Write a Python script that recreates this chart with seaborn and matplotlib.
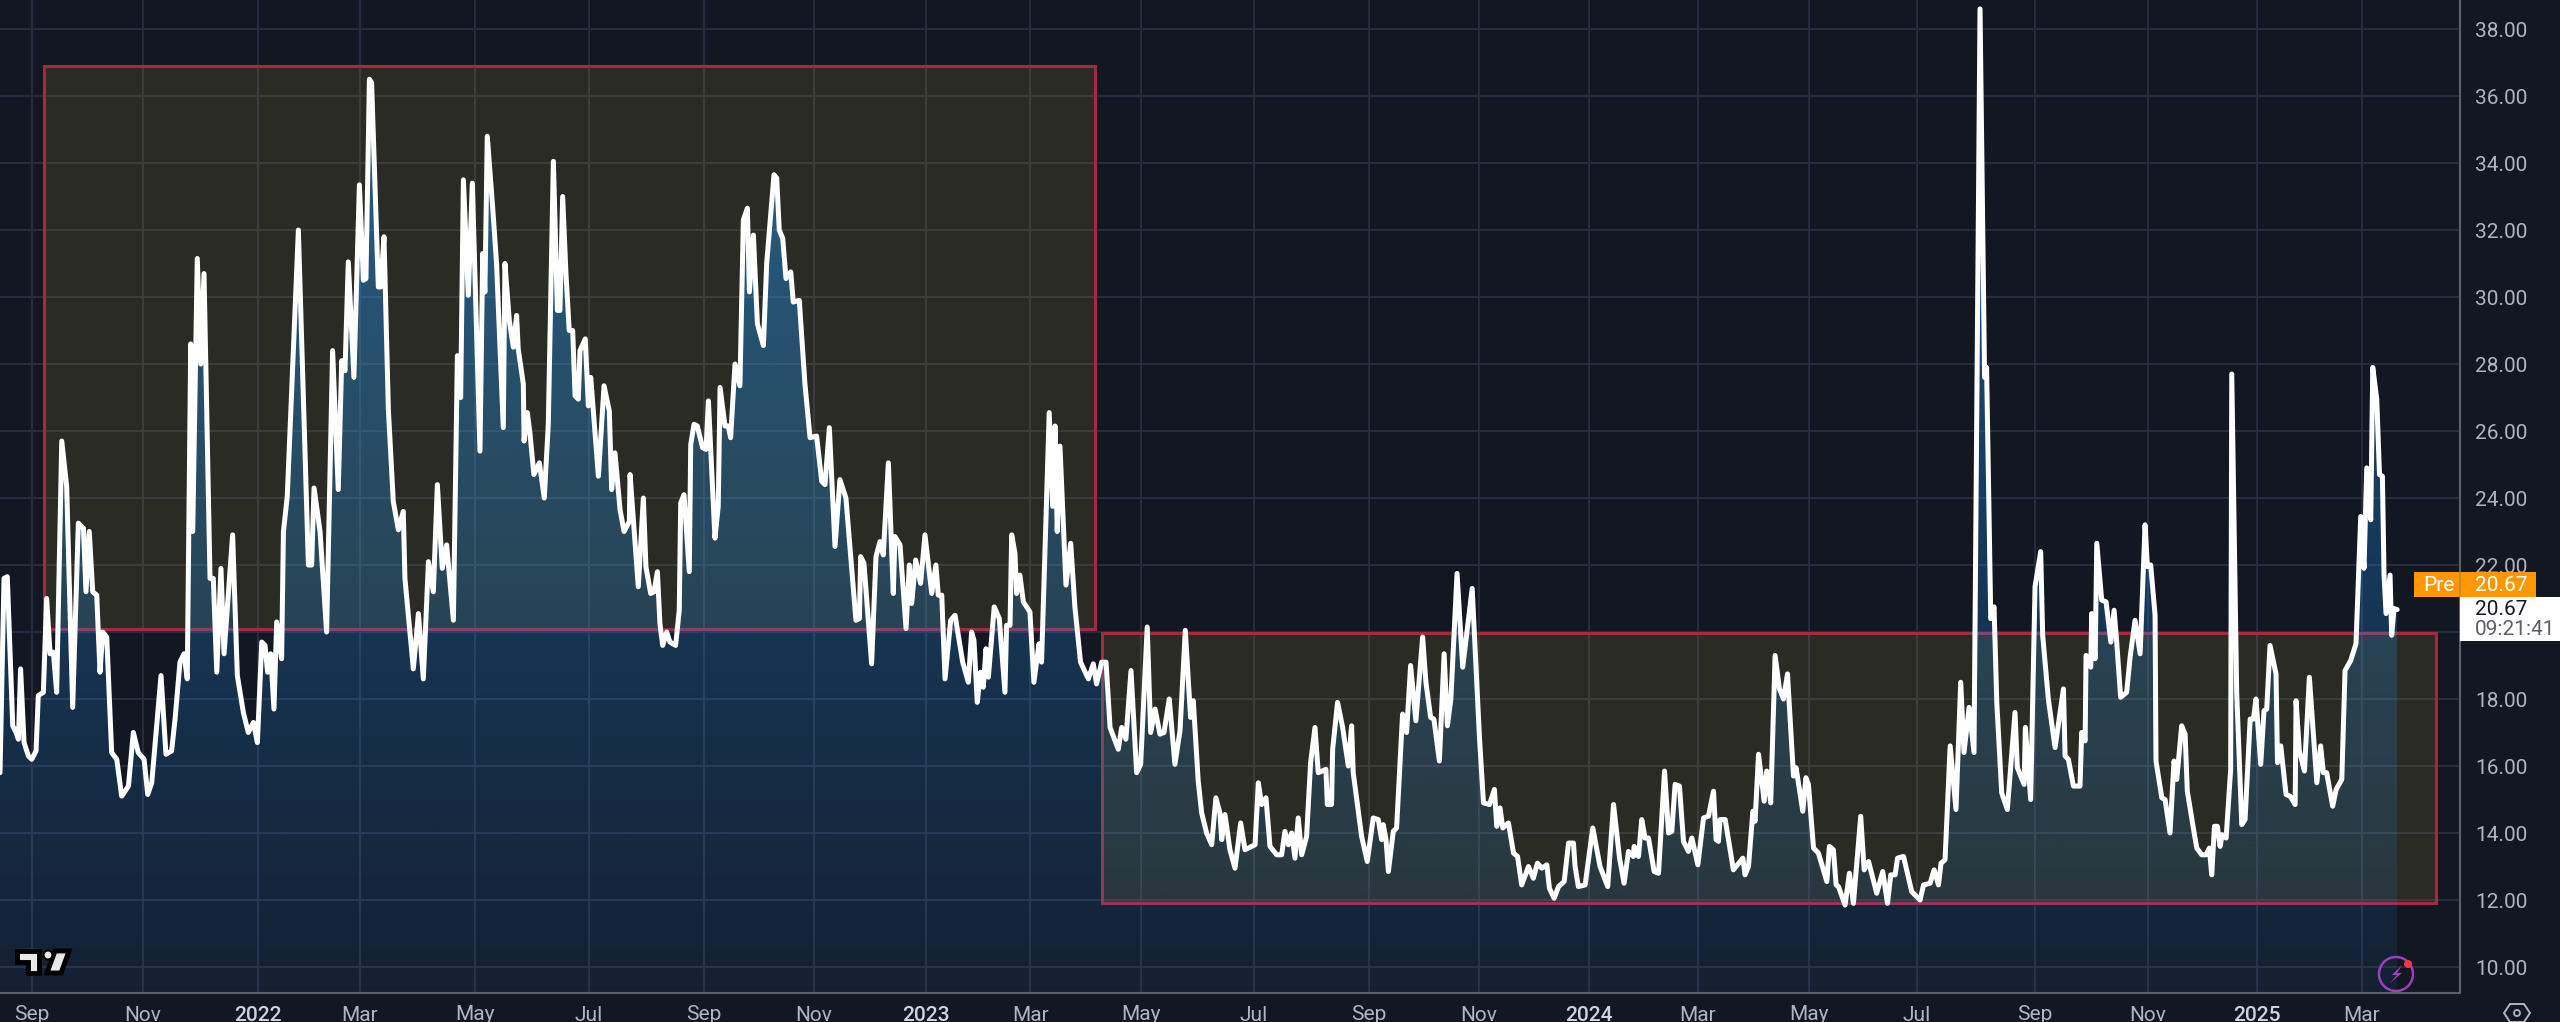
"""Volatility index daily close with two range boxes, dark trading-terminal look."""

from __future__ import annotations

import matplotlib

matplotlib.use("Agg")

import matplotlib.pyplot as plt
import numpy as np
import pandas as pd
import seaborn as sns
from matplotlib.patches import Circle, Polygon, Rectangle
from matplotlib.transforms import Affine2D

# Calendar days since 2021-08-14 for each vertex of the line
DAYS = [
    0, 2.2, 4, 7, 8.8, 10.1, 11.3, 13.2, 15.6, 17.4,
    19.8, 21, 23.8, 25.6, 27.5, 29.3, 31.1, 33.9, 36.6, 39.9,
    43, 45.8, 47.2, 49, 50.9, 53.1, 54.9, 56.4, 58.6, 61.3,
    64.1, 66.8, 70.5, 73.2, 75.9, 79.1, 81.1, 83.3, 88.4, 91.1,
    94.2, 96.1, 98.8, 101, 102.8, 104.7, 105.8, 108.3, 110.2, 112,
    115.3, 117.1, 119, 121.3, 123, 127.7, 130.3, 133.6, 136.3, 139.1,
    141.3, 143.7, 145.5, 146.9, 148.6, 150.4, 151.9, 154.6, 155.6, 157.7,
    163.8, 169.3, 171.1, 172.4, 175.7, 179.3, 182.6, 185.7, 187.6, 189.4,
    191.2, 194.3, 197.3, 199.5, 200.9, 202.8, 204, 207.7, 209, 210.8,
    213.2, 215.9, 218.7, 221.4, 222.3, 226.9, 229.7, 232.4, 235.2, 237.9,
    240.1, 242.8, 245.2, 248.9, 251.1, 252.9, 254.4, 257.1, 259.3, 263.5,
    265, 266.2, 267.5, 270.5, 272.6, 276.3, 277.2, 279.6, 281.8, 283.6,
    284.5, 287.3, 287.7, 289.5, 291, 293.1, 296.1, 298.8, 301, 303.8,
    306, 307.4, 308.9, 310.7, 312.5, 314.4, 315.7, 317.5, 318.4, 321.3,
    323, 324.3, 328.5, 331.6, 334.5, 335.8, 337.6, 340.4, 342.6, 345.5,
    345.9, 350.4, 353.2, 354.6, 357.2, 359, 360.9, 362.3, 363.8, 366,
    367.8, 370.9, 372.9, 373.7, 375.5, 378.4, 379.2, 381, 382.8, 385.7,
    387.6, 388.9, 392.5, 394.3, 395.3, 398, 399.8, 401.1, 403.5, 406.2,
    408.1, 410.3, 411.4, 413.6, 415.8, 419.1, 420.9, 424.9, 426.4, 427.8,
    429.7, 431.5, 434.1, 435.5, 438.8, 441.9, 444.7, 448.3, 451.1, 452.9,
    455.3, 458.4, 461.1, 464.4, 469.9, 471.8, 472.5, 474.3, 478.5, 480.9,
    483.1, 484.9, 487.7, 490.4, 491.3, 494.1, 497.4, 499.2, 500.5, 502.7,
    505.4, 507.8, 511.5, 513.8, 515.1, 517, 518.8, 521.9, 524.3, 528.5,
    531.6, 533.4, 534.7, 536.5, 538.3, 539.8, 541.3, 542.6, 545.8, 548.6,
    551.7, 552.6, 554.5, 555.4, 557.2, 558.1, 559.9, 561.8, 565.4, 567.6,
    570.4, 571.8, 576, 577.9, 579.2, 580.4, 581.9, 585.2, 587.8, 590.1,
    593.2, 597.5, 600.2, 602, 604.8, 607.2, 609.4, 613.9, 615.8, 618.1,
    620.9, 624, 626.2, 629.8, 631.7, 634.1, 636.8, 639, 641.9, 645,
    647.8, 650.7, 653.6, 655.1, 657.8, 659.7, 662.4, 665.2, 667.5, 669.7,
    670.7, 672.5, 675.2, 678, 681.1, 683.5, 687.1, 689, 690.8, 692.6,
    695, 697.2, 700.9, 703.6, 705.4, 707.3, 709.1, 710.9, 712.7, 714.6,
    717.3, 719.5, 721.9, 723.7, 727.9, 728.7, 731, 731.6, 734.3, 737.1,
    740.2, 742, 742.9, 747.5, 750.6, 753.9, 756.7, 758.5, 759.4, 760.9,
    762.2, 764.9, 766.7, 770, 772.2, 774.4, 777.3, 781, 782.8, 785.4,
    787.2, 790.2, 792.8, 794.6, 796.5, 799.9, 803, 808.2, 812.2, 814.4,
    817.7, 820.4, 821.7, 823.5, 825, 828.1, 830.9, 833.1, 835.4, 839.1,
    841.8, 844, 846.4, 849.2, 850.6, 853.2, 855.6, 858.7, 861.1, 863.8,
    864.7, 866.5, 870.2, 874.4, 878.4, 882.6, 885.8, 889.1, 891.6, 894,
    896.7, 897.1, 899.5, 901.3, 903.1, 905, 908.1, 910.5, 913.8, 916,
    917.8, 919.6, 922, 924.2, 926.9, 928.8, 932.1, 935.2, 937.9, 940.7,
    942.1, 943.4, 944.3, 947.1, 951.6, 956.8, 958, 959.9, 962.3, 963.5,
    965.4, 968.5, 969.9, 972.1, 974.5, 976.9, 979.1, 981.3, 984.6, 986,
    989.7, 991.4, 992.8, 995.6, 998.3, 1002.9, 1004.3, 1006.5, 1008, 1009.3,
    1012.9, 1015.3, 1017.5, 1021.5, 1023.4, 1025.8, 1030.3, 1033.6, 1036.2, 1038,
    1040.4, 1041.7, 1045, 1049.5, 1054.1, 1056, 1059.6, 1061.8, 1064.2, 1065.6,
    1067.8, 1070.6, 1073.8, 1076.4, 1078.2, 1081, 1083.7, 1087, 1089.5, 1090.6,
    1092.9, 1094.7, 1096.2, 1098.9, 1102, 1103.9, 1106.2, 1107.5, 1111.2, 1111.9,
    1114.8, 1117.2, 1120.3, 1121.4, 1124.5, 1128.2, 1132.8, 1133.7, 1135.5, 1138.3,
    1141.9, 1142.8, 1144.7, 1145.2, 1147.8, 1148.3, 1150.2, 1151.1, 1153.8, 1156.2,
    1158.8, 1160.6, 1162.1, 1164.2, 1167.5, 1169.4, 1172.1, 1174.9, 1177.6, 1178.9,
    1180.7, 1183.1, 1183.6, 1186.8, 1188.6, 1191.3, 1193.5, 1195, 1197.7, 1199.6,
    1200.8, 1204.1, 1206, 1208.7, 1211.1, 1212.9, 1214.2, 1215.7, 1217.3, 1218.8,
    1219.9, 1222.1, 1224.6, 1225.2, 1227.9, 1230.7, 1232.5, 1235.3, 1237.1, 1238.5,
    1241.1, 1242.9, 1244.4, 1246.2, 1249.5, 1250.3, 1252.1, 1255, 1257.2, 1260,
    1260.5, 1262.3, 1265.1, 1267.8, 1271.9, 1274, 1275.5, 1277.3, 1280.6, 1282.5,
    1285.6, 1287.4, 1290.5, 1293.4, 1296, 1297.8, 1299.3, 1301.5, 1302.6, 1304.8,
    1306.3, 1307.9, 1308.8, 1309.9, 1312.1, 1313, 1314.3, 1316,
]
VIX = [
    15.8, 21.6, 21.65, 17.2, 17, 16.8, 18.9, 16.7, 16.3, 16.2,
    16.45, 18.1, 18.2, 21, 19.35, 19.4, 18.2, 25.7, 24.35, 17.75,
    23.25, 23.1, 21.2, 23, 21.2, 21.1, 18.8, 20, 19.85, 16.4,
    16.2, 15.1, 15.4, 17, 16.4, 16.2, 15.15, 15.5, 18.7, 16.35,
    16.45, 17.4, 19.1, 19.35, 18.6, 28.6, 23, 31.15, 28, 30.7,
    21.6, 21.6, 18.8, 21.9, 19.35, 22.9, 18.7, 17.6, 17, 17.3,
    16.7, 19.7, 19.6, 18.8, 19.35, 17.7, 20.3, 19.2, 23, 24.05,
    32, 22, 22, 24.3, 23, 20, 28.4, 24.25, 28.1, 27.8,
    31.05, 27.6, 33.35, 30.5, 30.55, 36.5, 36.4, 30.3, 30.3, 31.8,
    26.65, 23.9, 23.05, 23.6, 21.6, 18.9, 20.55, 18.6, 22.1, 21.2,
    24.4, 21.9, 22.6, 20.35, 28.25, 27, 33.5, 30.05, 33.4, 25.4,
    31.3, 30.15, 34.8, 32.65, 31, 26.1, 31, 29.3, 28.5, 29.45,
    28.45, 27.4, 25.7, 26.55, 25.9, 24.7, 25.05, 24, 26.2, 34.05,
    29.6, 29.6, 33, 30.7, 29, 29, 27.05, 26.95, 28.4, 28.75,
    26.75, 27.6, 24.65, 27.35, 26.6, 24.25, 25.35, 23.65, 23, 23.3,
    24.7, 21.35, 24, 21.95, 21.15, 21.2, 21.8, 20.25, 19.6, 20,
    19.7, 19.6, 20.65, 23.85, 24.1, 21.8, 25.6, 26.2, 26.15, 25.5,
    25.45, 26.9, 22.8, 23.75, 27.3, 26.15, 26.15, 25.8, 28, 27.35,
    32.3, 32.65, 30.15, 31.85, 29.2, 28.55, 31, 33.65, 33.55, 32,
    31.75, 30.55, 30.75, 29.85, 29.9, 27.4, 25.8, 25.85, 24.5, 24.4,
    26.1, 22.55, 24.55, 24, 20.35, 20.4, 22.25, 22.05, 19.05, 22.25,
    22.7, 22.3, 25.05, 21.15, 22.85, 22.6, 20.1, 22, 20.85, 22.15,
    21.45, 22.9, 21.15, 22, 21.1, 21.1, 18.6, 20.35, 20.5, 19.1,
    18.5, 20, 19.75, 17.9, 18.8, 18.35, 19.5, 18.65, 20.75, 20.4,
    18.2, 20.2, 20.2, 22.9, 22.35, 21.15, 21.7, 20.9, 20.6, 18.5,
    19.65, 19.1, 26.55, 23.75, 26.15, 23, 25.55, 21.4, 22.65, 20.75,
    19.1, 18.6, 19.05, 18.45, 19.1, 19.1, 17.15, 16.5, 17.15, 16.8,
    18.85, 15.8, 16.05, 20.15, 17, 17.7, 16.95, 17, 18, 16.05,
    17.05, 20.05, 17.45, 17.95, 15.55, 14.6, 14, 13.65, 15.05, 14.6,
    13.8, 14.55, 13.5, 12.95, 14.3, 13.5, 13.6, 13.65, 15.5, 14.85,
    15.05, 13.6, 13.35, 13.35, 14.05, 13.65, 14, 13.25, 14.45, 13.35,
    13.9, 16.1, 17.15, 15.8, 15.9, 14.85, 14.85, 16.5, 17.9, 17.15,
    16, 17.2, 15.8, 13.9, 13.15, 14.45, 14.4, 13.8, 14.25, 13.8,
    12.85, 14.05, 14.15, 17.55, 17, 19, 17.35, 19.85, 18.5, 17.45,
    17.4, 16.15, 19.35, 17.2, 18, 21.75, 18.95, 21.3, 16.85, 14.9,
    14.85, 15.3, 14.2, 14.75, 14.15, 14.3, 13.4, 13.3, 12.45, 13,
    12.65, 13.1, 12.95, 13.05, 12.35, 12.05, 12.4, 12.55, 13.7, 13.7,
    13, 12.4, 12.45, 14.15, 13, 12.4, 14.85, 13.25, 12.5, 13.45,
    13.3, 13.6, 13.3, 14.4, 13.85, 13.85, 12.85, 12.8, 15.85, 14,
    14.05, 15.45, 15.4, 13.75, 13.45, 13.85, 13.05, 14.45, 14.5, 15.25,
    13.8, 13.75, 14.4, 14.4, 12.9, 13.25, 12.75, 13, 14.65, 14.35,
    16.35, 14.95, 15.85, 14.9, 19.3, 18.3, 18, 18.75, 15.7, 15.95,
    14.65, 15.65, 15.45, 13.55, 13.4, 12.55, 13.6, 13.5, 12.45, 12.4,
    11.85, 12.8, 11.9, 14.5, 12.9, 13.15, 12.2, 12.85, 11.9, 12.75,
    12.75, 13.25, 13.3, 12.25, 12, 12.45, 12.5, 12.9, 12.45, 13.1,
    13.2, 16.6, 14.7, 18.5, 16.4, 17.75, 16.4, 38.6, 27.6, 27.9,
    20.4, 20.75, 17.9, 15.2, 14.7, 16, 17.6, 15.95, 15.45, 17.15,
    15, 21.35, 22.4, 19.9, 18, 16.55, 18.3, 16.3, 16.2, 15.4,
    15.4, 17, 16.75, 19.3, 18.95, 20.55, 19.2, 22.65, 20.95, 20.9,
    19.7, 20.65, 19.65, 18.05, 18.2, 19.25, 20.35, 19.35, 23.2, 21.95,
    22, 20.5, 16.15, 15.05, 15, 14, 16.15, 15.6, 17.2, 16.95,
    15.25, 14.15, 13.55, 13.35, 13.35, 13.55, 12.75, 14.2, 14.2, 13.6,
    13.95, 13.85, 15.9, 27.7, 18.2, 14.25, 14.4, 17.4, 17.4, 18,
    16.05, 17.65, 17.7, 19.6, 18.75, 16.1, 16.6, 15.15, 15.1, 14.85,
    17.95, 16.45, 15.85, 18.65, 15.5, 16.6, 15.8, 15.8, 14.8, 15.3,
    15.6, 18.85, 19.15, 19.65, 23.45, 21.9, 24.9, 23.35, 27.9, 26.95,
    24.7, 24.65, 21.7, 20.55, 21.7, 19.9, 20.7, 20.67,
]

# Axis ticks (same day scale as DAYS: the chart spaces sessions, so months are not exact)
TICK_DAYS = [17.6, 78.5, 141.6, 197.6, 260.8, 323.4, 386.5, 446.9, 508.4, 565.5, 626.4,
             688.4, 751.6, 812, 872.4, 932.2, 993.1, 1052.4, 1117.2, 1179.3, 1239, 1296.7]
TICK_LABELS = ["Sep", "Nov", "2022", "Mar", "May", "Jul", "Sep", "Nov", "2023", "Mar", "May",
               "Jul", "Sep", "Nov", "2024", "Mar", "May", "Jul", "Sep", "Nov", "2025", "Mar"]
Y_TICKS = list(range(10, 40, 2))
# 20.00 sits behind the last-price tag, so it gets no label
Y_LABELS = ["" if v == 20 else f"{v:.2f}" for v in Y_TICKS]

# Range boxes: day start, day end, low, high
BOX_HIGH = [24.2, 601.2, 20.08, 36.9]
BOX_LOW = [605, 1337.4, 11.9, 19.98]

X_MAX = 1350.5
Y_MIN, Y_MAX = 9.224, 38.866
W, H = 2560, 1022
PLOT_R, PLOT_B = 2460, 993

BG = "#131722"
FONT = "Roboto"


def main() -> None:
    sns.set_theme(style="dark")
    plt.rcParams["font.family"] = [FONT, "DejaVu Sans"]
    assert len(DAYS) == len(VIX), (len(DAYS), len(VIX))
    df = pd.DataFrame({"day": DAYS, "vix": VIX})

    fig = plt.figure(figsize=(W / 100, H / 100), dpi=100, facecolor=BG)
    ax = fig.add_axes([0, 1 - PLOT_B / H, PLOT_R / W, PLOT_B / H], facecolor=BG)

    # Top-left pixel coordinates, for the chrome that is not part of the data
    px = Affine2D().scale(1, -1).translate(0, H)

    ax.set_axisbelow(True)
    ax.grid(True, color="#2a2e41", lw=1.3, zorder=1)

    for x0, x1, lo, hi in (BOX_HIGH, BOX_LOW):
        ax.add_patch(Rectangle((x0, lo), x1 - x0, hi - lo, facecolor=(226 / 255, 200 / 255, 65 / 255, 0.115),
                               edgecolor="#a32b40", lw=2.2, zorder=2))

    # Area under the line: one colour, alpha fading towards the bottom, clipped to the series
    poly = ax.fill_between(df["day"], df["vix"], Y_MIN, facecolor="none", edgecolor="none")
    alpha = np.linspace(0.08 + 0.0143 * (Y_MAX - 9.2), 0.08, 256)
    rgba = np.zeros((256, 1, 4))
    rgba[..., 0], rgba[..., 1], rgba[..., 2] = 33 / 255, 150 / 255, 243 / 255
    rgba[:, 0, 3] = alpha
    im = ax.imshow(rgba, extent=[0, X_MAX, Y_MIN, Y_MAX], aspect="auto", zorder=3, interpolation="bilinear")
    im.set_clip_path(poly.get_paths()[0], transform=ax.transData)

    sns.lineplot(data=df, x="day", y="vix", color="white", lw=3.6, estimator=None, sort=False,
                 solid_joinstyle="round", ax=ax, zorder=4)

    ax.set_xlim(0, X_MAX)
    ax.set_ylim(Y_MIN, Y_MAX)
    ax.set_xlabel("")
    ax.set_ylabel("")
    ax.set_xticks(TICK_DAYS, TICK_LABELS)
    ax.set_yticks(Y_TICKS, Y_LABELS)
    ax.yaxis.tick_right()
    ax.tick_params(axis="x", length=0, pad=9, labelsize=15, colors="#b2b5be")
    ax.tick_params(axis="y", length=0, pad=11, labelsize=15, colors="#b2b5be")
    for lab in ax.get_xticklabels():
        if lab.get_text().isdigit():
            lab.set_color("#d1d4dc")
            lab.set_fontweight("medium")

    for side in ("top", "left"):
        ax.spines[side].set_visible(False)
    for side in ("right", "bottom"):
        ax.spines[side].set_color("#5d6068")
        ax.spines[side].set_linewidth(1.5)

    def chrome(patch, z=6):
        patch.set_transform(px)
        patch.set_zorder(z)
        fig.add_artist(patch)

    def label(x, y, s, color, **kw):
        fig.text(x, y, s, color=color, fontsize=15, transform=px, va="center", zorder=8, **kw)

    # Price tags on the right axis
    chrome(Rectangle((2414, 572), 122, 25, facecolor="#ff9800", edgecolor="none"))
    chrome(Rectangle((2460, 597), 100, 44, facecolor="white", edgecolor="none"))
    chrome(Rectangle((2459, 572), 1.5, 25, facecolor="#c98a20", edgecolor="none"), z=7)
    label(2423, 585, "Pre", "white")
    label(2475, 585, "20.67", "white")
    label(2475, 609, "20.67", BG)
    label(2475, 629, "09:21:41", "#5d606b")

    # Logo bottom-left
    t_mark = [(17, 951), (39, 951), (39, 973), (28, 973), (28, 962), (17, 962)]
    slash = [(55, 951), (69, 951), (61, 973), (47, 973)]
    for shape in (t_mark, slash):
        chrome(Polygon(shape, closed=True, facecolor="#e8e8e8", edgecolor="black", lw=3.5, joinstyle="miter"))
    chrome(Circle((48, 955), 4.5, facecolor="#e8e8e8", edgecolor="black", lw=1.5))

    # Lightning badge near the last bar
    chrome(Circle((2396, 974), 17, facecolor="none", edgecolor="#9c3fc0", lw=1.8))
    bolt = [(2402, 965), (2392, 975), (2397, 975), (2390, 983), (2402, 973), (2397, 973)]
    chrome(Polygon(bolt, closed=True, facecolor="#a044c8", edgecolor="none"))
    chrome(Circle((2408, 964), 4, facecolor="#f23645", edgecolor="none"))

    # Settings hexagon in the corner
    hexagon = [(2504, 1013), (2510, 1004), (2524, 1004), (2530, 1013), (2524, 1022), (2510, 1022)]
    chrome(Polygon(hexagon, closed=True, facecolor="none", edgecolor="#b2b5be", lw=1.4))
    chrome(Circle((2517, 1013), 3, facecolor="none", edgecolor="#b2b5be", lw=1.3))

    fig.savefig("out.png", dpi=100, facecolor=BG)
    print("WROTE out.png")


if __name__ == "__main__":
    main()
